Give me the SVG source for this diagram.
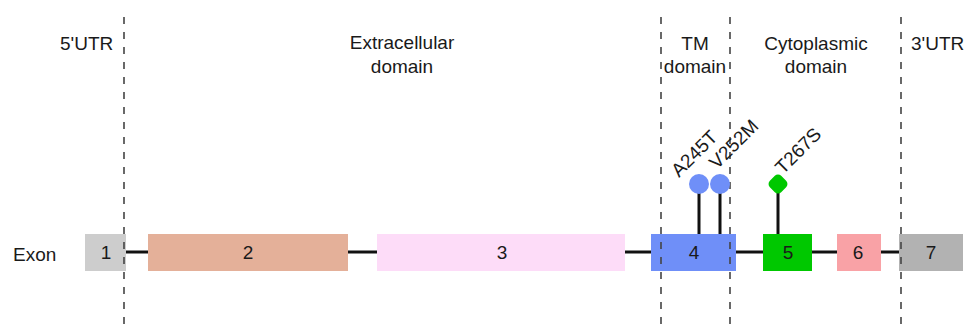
<svg xmlns="http://www.w3.org/2000/svg" width="966" height="329" viewBox="0 0 966 329">
  <style>
    text { font-family: "Liberation Sans", Arial, sans-serif; fill: #1a1a1a; }
    .lbl { font-size: 19px; }
    .num { font-size: 19px; text-anchor: middle; }
    .mid { text-anchor: middle; }
    .divider { stroke: #444; stroke-width: 1.6; stroke-dasharray: 7 8; fill: none; }
    .intron { stroke: #111; stroke-width: 3; fill: none; }
    .stem { stroke: #111; stroke-width: 3; }
  </style>

  <rect width="966" height="329" fill="#ffffff"/>

  <!-- region headers -->
  <g id="headers" class="lbl">
    <text x="60" y="50">5'UTR</text>
    <text class="mid" x="402" y="49">Extracellular</text>
    <text class="mid" x="402" y="73">domain</text>
    <text class="mid" x="695" y="50">TM</text>
    <text class="mid" x="695" y="73">domain</text>
    <text class="mid" x="816" y="50">Cytoplasmic</text>
    <text class="mid" x="816" y="73">domain</text>
    <text x="911" y="50">3'UTR</text>
  </g>

  <g id="row-label">
    <text class="lbl" x="13" y="261">Exon</text>
  </g>

  <!-- introns between exons -->
  <g id="connectors">
    <line class="intron" x1="126" y1="252" x2="148" y2="252"/>
    <line class="intron" x1="348" y1="252" x2="377" y2="252"/>
    <line class="intron" x1="625" y1="252" x2="651" y2="252"/>
    <line class="intron" x1="736" y1="252" x2="763" y2="252"/>
    <line class="intron" x1="812" y1="252" x2="837" y2="252"/>
    <line class="intron" x1="881" y1="252" x2="899" y2="252"/>
  </g>

  <!-- exons -->
  <g id="exon1"><rect x="85" y="234" width="41" height="37" fill="#cdcdcd"/><text class="num" x="106" y="259">1</text></g>
  <g id="exon2"><rect x="148" y="234" width="200" height="37" fill="#e4b099"/><text class="num" x="248" y="259">2</text></g>
  <g id="exon3"><rect x="377" y="234" width="248" height="37" fill="#fddcf8"/><text class="num" x="502" y="259">3</text></g>
  <g id="exon4"><rect x="651" y="234" width="85" height="37" fill="#6f8ff8"/><text class="num" x="694" y="259">4</text></g>
  <g id="exon5"><rect x="763" y="234" width="49" height="37" fill="#00c800"/><text class="num" x="788" y="259">5</text></g>
  <g id="exon6"><rect x="837" y="234" width="44" height="37" fill="#f9a2a6"/><text class="num" x="858" y="259">6</text></g>
  <g id="exon7"><rect x="899" y="234" width="64" height="37" fill="#b2b2b2"/><text class="num" x="931" y="259">7</text></g>

  <!-- domain dividers -->
  <g id="dividers">
    <line class="divider" x1="124" y1="17" x2="124" y2="329"/>
    <line class="divider" x1="661" y1="17" x2="661" y2="329"/>
    <line class="divider" x1="730" y1="17" x2="730" y2="329"/>
    <line class="divider" x1="901" y1="17" x2="901" y2="329"/>
  </g>

  <!-- variant lollipops -->
  <g id="A245T">
    <line class="stem" x1="699" y1="186" x2="699" y2="234"/>
    <circle cx="699" cy="184" r="10" fill="#6f8ff8"/>
    <text class="lbl" transform="translate(679,178) rotate(-45)">A245T</text>
  </g>
  <g id="V252M">
    <line class="stem" x1="720" y1="186" x2="720" y2="234"/>
    <circle cx="720" cy="184" r="10" fill="#6f8ff8"/>
    <text class="lbl" transform="translate(717,170) rotate(-45)">V252M</text>
  </g>
  <g id="T267S">
    <line class="stem" x1="778" y1="186" x2="778" y2="234"/>
    <rect x="770" y="176" width="16" height="16" rx="4.5" fill="#00c800" transform="rotate(45 778 184)"/>
    <text class="lbl" transform="translate(783,175) rotate(-45)">T267S</text>
  </g>
</svg>
